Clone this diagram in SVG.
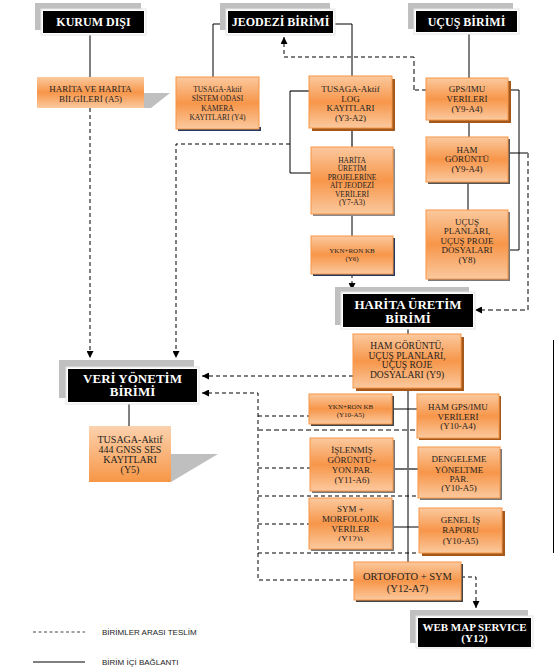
<svg xmlns="http://www.w3.org/2000/svg" width="555" height="669" viewBox="0 0 555 669">
<style>
.box{fill:url(#og);stroke:#f79646;stroke-width:1}
.box2{fill:url(#og)}
.shb{fill:#a5581c}
.shn{fill:#253a5e}
.gs{fill:#bfbfbf}
.hg{fill:#c0c0c0}
.hw{fill:#fff;stroke:#e4e4e4;stroke-width:1}
.hb{fill:#000}
.ht{fill:#fff;font-family:"Liberation Serif",serif;font-weight:bold;text-anchor:middle}
.t{fill:#1e1e1e;font-family:"Liberation Serif",serif;text-anchor:middle}
.s{stroke:#000;stroke-width:1;fill:none}
.sg{stroke:#6f6f6f;stroke-width:2;fill:none}
.d{stroke:#000;stroke-width:1;stroke-dasharray:4 3;fill:none}
.dg{stroke:#808080;stroke-width:2;stroke-dasharray:5 3;fill:none}
.lg{fill:#222;font-family:"Liberation Sans",sans-serif;font-size:8px}
</style>
<defs>
<linearGradient id="og" x1="0" y1="0" x2="0" y2="1">
<stop offset="0" stop-color="#fbc99e"/>
<stop offset="0.5" stop-color="#f7964a"/>
<stop offset="1" stop-color="#fbc99e"/>
</linearGradient>
<linearGradient id="og2" x1="0" y1="0" x2="0" y2="1">
<stop offset="0" stop-color="#fbd2ae"/>
<stop offset="1" stop-color="#f79646"/>
</linearGradient>
<marker id="ah" viewBox="0 0 8 8" refX="8" refY="4" markerWidth="7" markerHeight="7" markerUnits="userSpaceOnUse" orient="auto">
<path d="M0,0 L8,4 L0,8 z" fill="#000"/>
</marker>
<clipPath id="symclip"><rect x="309" y="498" width="83" height="43"/></clipPath>
</defs>

<g id="connectors">
<path class="s" d="M90,33 V77"/>
<path class="s" d="M228,24 H213 V77"/>
<path class="s" d="M333,24 H352 V76"/>
<path class="s" d="M469,32 V78"/>
<path class="s" d="M469,120 V137"/>
<path class="s" d="M468,182 V210"/>
<path class="s" d="M508,90 H519 V250 H508"/>
<path class="s" d="M508,153 H528"/>
<path class="sg" d="M352,128 V147"/>
<path class="sg" d="M309,91 H290"/>
<path class="s" d="M290,91 V173 H311"/>
<path class="s" d="M352,214 V236"/>
<path class="s" d="M129,402 V426"/>
<path class="s" d="M408,327 V334"/>
<path class="s" d="M408,388 V562"/>
<path class="s" d="M392,409 H417"/>
<path class="sg" d="M393,469 H418"/>
<path class="s" d="M392,527 H419" stroke="#333"/>
<path class="s" d="M553.5,340 V553" stroke="#222"/>

<path class="d" d="M90,108 V358" marker-end="url(#ah)"/>
<path class="d" d="M290,144 H176 V358" marker-end="url(#ah)"/>
<path class="d" d="M426,90 H414"/>
<path class="dg" d="M414,90 V57"/>
<path class="d" d="M414,57 H284 V37" marker-end="url(#ah)"/>
<path class="dg" d="M528,153 V310 H482" stroke-width="1.6"/>
<path class="d" d="M482,310 H475" marker-end="url(#ah)"/>
<path class="d" d="M352,274 V290" marker-end="url(#ah)"/>
<path class="d" d="M353,376 H202" marker-end="url(#ah)"/>
<path class="d" d="M354,580 H258 V393 H202" marker-end="url(#ah)"/>
<path class="d" d="M258,416 H309"/>
<path class="dg" d="M258,430 H417"/>
<path class="d" d="M258,468 H310"/>
<path class="d" d="M258,496 H418"/>
<path class="d" d="M258,524 H309"/>
<path class="d" d="M258,553 H419"/>
<path class="d" d="M461,577 H476 V608" marker-end="url(#ah)"/>
</g>

<g id="kurum-disi">
<rect class="hg" x="35" y="3" width="106" height="27"/>
<rect class="hw" x="41" y="9" width="105" height="26"/>
<rect class="hb" x="43" y="11" width="101" height="22"/>
<text class="ht" x="93.5" y="26" font-size="12">KURUM DIŞI</text>
</g>

<g id="jeodezi-birimi">
<rect class="hg" x="220" y="3" width="110" height="27"/>
<rect class="hw" x="226" y="9" width="109" height="26"/>
<rect class="hb" x="228" y="11" width="105" height="22"/>
<text class="ht" x="280.5" y="26" font-size="12">JEODEZİ BİRİMİ</text>
</g>

<g id="ucus-birimi">
<rect class="hg" x="408" y="3" width="105" height="26"/>
<rect class="hw" x="414" y="9" width="105" height="25"/>
<rect class="hb" x="416" y="11" width="101" height="21"/>
<text class="ht" x="466.5" y="26" font-size="12">UÇUŞ BİRİMİ</text>
</g>

<g id="harita-bilgileri">
<polygon class="gs" points="144,93 170,93 151,108 144,108"/>
<rect class="box2" x="37" y="77" width="107" height="31"/>
<text class="t" font-size="9"><tspan x="90.5" y="92">HARİTA VE HARİTA</tspan><tspan x="90.5" y="102">BİLGİLERİ (A5)</tspan></text>
</g>

<g id="y4">
<rect class="shn" x="178" y="127" width="83" height="4"/>
<rect class="box" x="176" y="77" width="83" height="52"/>
<text class="t" font-size="7.5"><tspan x="217.5" y="91.5">TUSAGA-Aktif</tspan><tspan x="217.5" y="101">SİSTEM ODASI</tspan><tspan x="217.5" y="110.5">KAMERA</tspan><tspan x="217.5" y="119.5">KAYITLARI  (Y4)</tspan></text>
</g>

<g id="y3-a2">
<rect class="shb" x="312" y="79" width="83" height="52"/>
<rect class="box" x="309" y="76" width="83" height="52"/>
<text class="t" font-size="9"><tspan x="350.5" y="92">TUSAGA-Aktif</tspan><tspan x="350.5" y="101.5">LOG</tspan><tspan x="350.5" y="111">KAYITLARI</tspan><tspan x="350.5" y="121">(Y3-A2)</tspan></text>
</g>

<g id="y7-a3">
<rect x="313" y="149" width="82" height="67" fill="#8a8a8a"/>
<rect class="box" x="311" y="147" width="82" height="67"/>
<text class="t" font-size="7.5"><tspan x="352" y="162.5">HARİTA</tspan><tspan x="352" y="171">ÜRETİM</tspan><tspan x="352" y="179.5">PROJELERİNE</tspan><tspan x="352" y="188">AİT JEODEZİ</tspan><tspan x="352" y="196.5">VERİLERİ</tspan><tspan x="352" y="205">(Y7-A3)</tspan></text>
</g>

<g id="y6">
<rect class="shn" x="313" y="238" width="82" height="38"/>
<rect class="box" x="311" y="236" width="82" height="38"/>
<text class="t" font-size="7"><tspan x="352" y="252.5">YKN+RON  KB</tspan><tspan x="352" y="260.5">(Y6)</tspan></text>
</g>

<g id="y9-a4-gps">
<rect class="shb" x="429" y="81" width="82" height="42"/>
<rect class="box" x="426" y="78" width="82" height="42"/>
<text class="t" font-size="9"><tspan x="467" y="92">GPS/IMU</tspan><tspan x="467" y="102">VERİLERİ</tspan><tspan x="467" y="112">(Y9-A4)</tspan></text>
</g>

<g id="y9-a4-ham">
<rect x="428" y="139" width="82" height="45" fill="#555"/>
<rect class="box" x="426" y="137" width="82" height="45"/>
<text class="t" font-size="9"><tspan x="467" y="153">HAM</tspan><tspan x="467" y="162">GÖRÜNTÜ</tspan><tspan x="467" y="172">(Y9-A4)</tspan></text>
</g>

<g id="y8">
<rect x="428" y="212" width="82" height="69" fill="#777"/>
<rect class="box" x="426" y="210" width="82" height="69"/>
<text class="t" font-size="9"><tspan x="467" y="225">UÇUŞ</tspan><tspan x="467" y="234">PLANLARI,</tspan><tspan x="467" y="243.5">UÇUŞ PROJE</tspan><tspan x="467" y="253">DOSYALARI</tspan><tspan x="467" y="263">(Y8)</tspan></text>
</g>

<g id="harita-uretim-birimi">
<rect class="hg" x="335" y="287" width="134" height="38"/>
<rect class="hw" x="341" y="292" width="134" height="37"/>
<rect class="hb" x="343" y="294" width="130" height="33"/>
<text class="ht" font-size="13"><tspan x="408" y="309">HARİTA ÜRETİM</tspan><tspan x="408" y="322.5">BİRİMİ</tspan></text>
</g>

<g id="veri-yonetim-birimi">
<rect class="hg" x="59" y="360" width="135" height="38"/>
<rect class="hw" x="66" y="367" width="133" height="37"/>
<rect class="hb" x="68" y="369" width="129" height="33"/>
<text class="ht" font-size="13"><tspan x="132.5" y="382.5">VERİ YÖNETİM</tspan><tspan x="132.5" y="396">BİRİMİ</tspan></text>
</g>

<g id="y5">
<polygon class="gs" points="171,454 218,454 171,482"/>
<rect x="89" y="426" width="82" height="56" fill="url(#og2)"/>
<text class="t" font-size="10"><tspan x="130" y="442.5">TUSAGA-Aktif</tspan><tspan x="130" y="452.5">444 GNSS SES</tspan><tspan x="130" y="462.5">KAYITLARI</tspan><tspan x="130" y="472.5">(Y5)</tspan></text>
</g>

<g id="y9">
<rect class="shb" x="356" y="337" width="108" height="54"/>
<rect class="box" x="353" y="334" width="108" height="54"/>
<text class="t" font-size="9.5"><tspan x="407" y="349">HAM GÖRÜNTÜ,</tspan><tspan x="407" y="359">UÇUŞ PLANLARI,</tspan><tspan x="407" y="368">UÇUŞ ROJE</tspan><tspan x="407" y="377.5">DOSYALARI (Y9)</tspan></text>
</g>

<g id="y10-a5-ykn">
<rect x="311" y="396" width="83" height="30" fill="#444"/>
<rect class="box" x="309" y="394" width="83" height="30"/>
<text class="t" font-size="7"><tspan x="350.5" y="408.5">YKN+RON  KB</tspan><tspan x="350.5" y="416.5">(Y10-A5)</tspan></text>
</g>

<g id="y10-a4">
<rect class="shb" x="419" y="396" width="82" height="44"/>
<rect class="box" x="417" y="394" width="82" height="44"/>
<text class="t" font-size="9"><tspan x="458" y="410">HAM GPS/IMU</tspan><tspan x="458" y="419.5">VERİLERİ</tspan><tspan x="458" y="429">(Y10-A4)</tspan></text>
</g>

<g id="y11-a6">
<rect x="312" y="440" width="83" height="53" fill="#777"/>
<rect class="box" x="310" y="438" width="83" height="53"/>
<text class="t" font-size="9"><tspan x="352" y="453">İŞLENMİŞ</tspan><tspan x="352" y="462.5">GÖRÜNTÜ+</tspan><tspan x="352" y="473">YON.PAR.</tspan><tspan x="352" y="483">(Y11-A6)</tspan></text>
</g>

<g id="y10-a5-dengeleme">
<rect x="420" y="449" width="82" height="51" fill="#777"/>
<rect class="box" x="418" y="447" width="82" height="51"/>
<text class="t" font-size="9"><tspan x="459" y="462">DENGELEME</tspan><tspan x="459" y="473">YÖNELTME</tspan><tspan x="459" y="481.5">PAR.</tspan><tspan x="459" y="490.5">(Y10-A5)</tspan></text>
</g>

<g id="y12-sym">
<rect x="311" y="500" width="83" height="51" fill="#777"/>
<rect class="box" x="309" y="498" width="83" height="51"/>
<text class="t" font-size="9" clip-path="url(#symclip)"><tspan x="350.5" y="512">SYM +</tspan><tspan x="350.5" y="522">MORFOLOJİK</tspan><tspan x="350.5" y="532">VERİLER</tspan><tspan x="350.5" y="542">(Y12))</tspan></text>
</g>

<g id="y10-a5-genel">
<rect class="shb" x="422" y="511" width="83" height="45"/>
<rect class="box" x="419" y="508" width="83" height="45"/>
<text class="t" font-size="9"><tspan x="460.5" y="523">GENEL İŞ</tspan><tspan x="460.5" y="533">RAPORU</tspan><tspan x="460.5" y="544">(Y10-A5)</tspan></text>
</g>

<g id="y12-a7">
<rect x="356" y="564" width="107" height="38" fill="#444"/>
<rect class="box" x="354" y="562" width="107" height="38"/>
<text class="t" font-size="10.5"><tspan x="407.5" y="580">ORTOFOTO + SYM</tspan><tspan x="407.5" y="592">(Y12-A7)</tspan></text>
</g>

<g id="web-map-service">
<rect class="hg" x="410" y="610" width="118" height="33"/>
<rect class="hw" x="416" y="616" width="117" height="32"/>
<rect class="hb" x="418" y="618" width="113" height="29"/>
<text class="ht" font-size="11"><tspan x="474.5" y="631">WEB MAP SERVICE</tspan><tspan x="474.5" y="642">(Y12)</tspan></text>
</g>

<g id="legend">
<path d="M33,632 H85" stroke="#444" stroke-width="1" stroke-dasharray="3 2.5"/>
<text class="lg" x="102" y="635">BİRİMLER ARASI TESLİM</text>
<path d="M33,662 H85" stroke="#000" stroke-width="1"/>
<text class="lg" x="102" y="665">BİRİM İÇİ BAĞLANTI</text>
</g>
</svg>
